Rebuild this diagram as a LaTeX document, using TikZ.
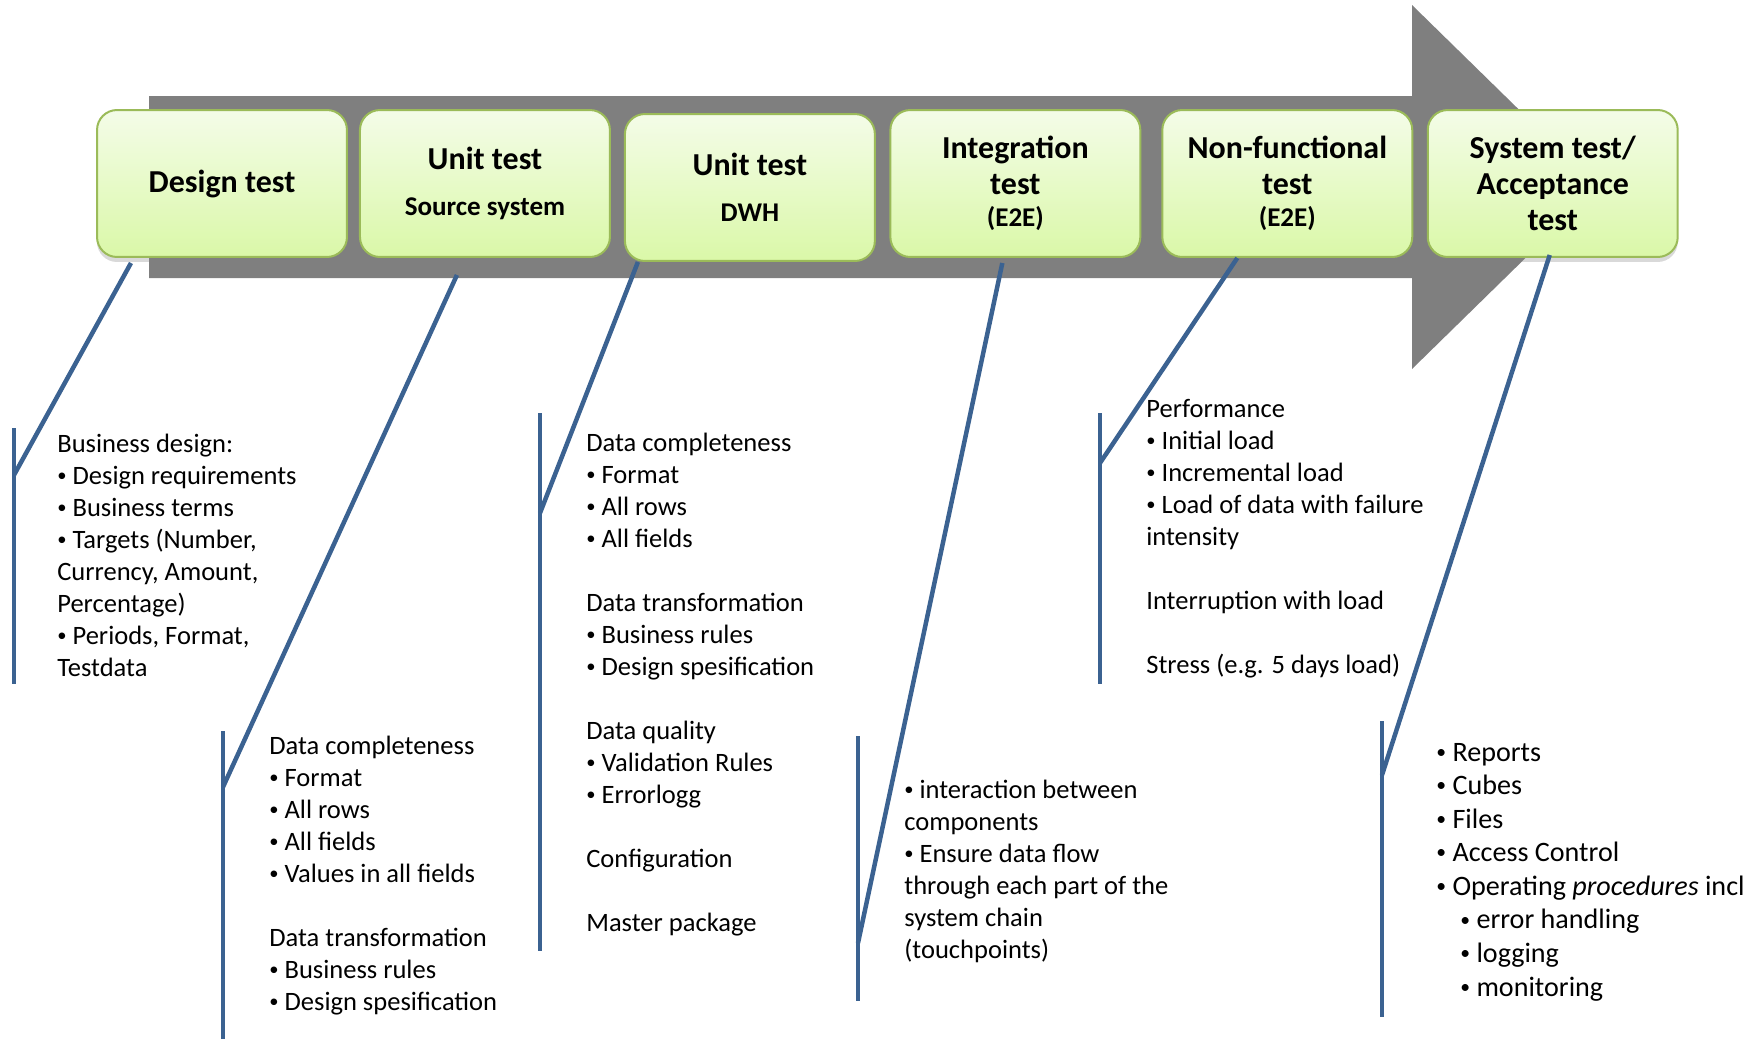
\documentclass[tikz,border=0pt]{standalone}
\usepackage{fontspec}
\setmainfont{Carlito}
\usepackage{xcolor}
\usepackage{tikz}
\usetikzlibrary{positioning, calc, shadows}

\definecolor{flowgray}{RGB}{127,127,127}
\definecolor{phaseedge}{RGB}{155,187,89}
\definecolor{phasetop}{RGB}{244,252,232}
\definecolor{phasebot}{RGB}{218,248,168}
\definecolor{legblue}{RGB}{59,98,145}

\newcommand{\phasefont}{\fontsize{18.2}{20.4}\selectfont\bfseries}
\newcommand{\phasesub}{\fontsize{15.4}{17}\selectfont\bfseries}
\newcommand{\listfont}{\fontsize{15.1}{18.2}\selectfont}
\newcommand{\listfontb}{\fontsize{16}{19.1}\selectfont}
\newcommand{\itm}{\raisebox{0.1em}{\scalebox{0.7}{\textbullet}}\ }

\begin{document}
\begin{tikzpicture}[x=0.02cm, y=-0.02cm, % one unit = one pixel of the original
		phase/.style={rectangle, draw=phaseedge, line width=0.04cm, rounded corners=0.4cm, top color=phasetop, bottom color=phasebot, drop shadow={shadow xshift=0pt, shadow yshift=-0.1cm, opacity=0.3}, minimum width=5cm, minimum height=2.94cm, align=center, font=\phasefont, inner sep=0pt},
		leg/.style={draw=legblue, line width=0.09cm},
		items/.style={anchor=base west, align=left, inner sep=0pt, font=\listfont} % anchored at the last line
		]
		\useasboundingbox (0,0) rectangle (1758,1039);
		
		% the big grey arrow behind the phases
		\fill[flowgray] (149,96) -- (1412,96) -- (1412,5) -- (1598,187) -- (1412,369) -- (1412,278) -- (149,278) -- cycle;
		
		% phases
		\node[phase] (design) at (222,183.5) {Design test};
		\node[phase, right=0.22cm of design] (srcunit) {Unit test\\[5.8pt]{\phasesub Source system}};
		\node[phase, right=0.26cm of srcunit, yshift=-0.08cm] (dwhunit) {Unit test\\[5.8pt]{\phasesub DWH}};
		\node[phase, right=0.27cm of dwhunit, yshift=0.08cm] (integ) {Integration\\test\\[-2pt]{\phasesub (E2E)}};
		\node[phase, right=0.4cm of integ] (nonfunc) {Non-functional\\test\\[-2pt]{\phasesub (E2E)}};
		\node[phase, right=0.27cm of nonfunc] (systest) {System test/\\Acceptance\\test};
		
		% Design test
		\coordinate (k1) at ($(design.south)+(-91,5)$);
		\coordinate (t1) at (14,428);
		\coordinate (j1) at (14,475);
		\coordinate (e1) at (14,684);
		\draw[leg] (t1) -- (e1);
		\draw[leg] (k1) -- (j1);
		\node[items] (designlist) at (57,676) {Business design:\\
			\itm Design requirements\\
			\itm Business terms\\
			\itm Targets (Number,\\
			Currency, Amount,\\
			Percentage)\\
			\itm Periods, Format,\\
			Testdata};
		
		% Unit test, source system
		\coordinate (k2) at ($(srcunit.south)+(-28,17)$);
		\coordinate (t2) at (223,731);
		\coordinate (j2) at (223,787);
		\coordinate (e2) at (223,1039);
		\draw[leg] (t2) -- (e2);
		\draw[leg] (k2) -- (j2);
		\node[items] (srclist) at (269,1010) {Data completeness\\
			\itm Format\\
			\itm All rows\\
			\itm All fields\\
			\itm Values in all fields\\[18.2pt]
			Data transformation\\
			\itm Business rules\\
			\itm Design spesification};
		
		% Unit test, DWH
		\coordinate (k3) at ($(dwhunit.south)+(-112,0)$);
		\coordinate (t3) at (540,413);
		\coordinate (j3) at (540,513);
		\coordinate (e3) at (540,951);
		\draw[leg] (t3) -- (e3);
		\draw[leg] (k3) -- (j3);
		\node[items] (dwhlist) at (586,931) {Data completeness\\
			\itm Format\\
			\itm All rows\\
			\itm All fields\\[18.2pt]
			Data transformation\\
			\itm Business rules\\
			\itm Design spesification\\[18.2pt]
			Data quality\\
			\itm Validation Rules\\
			\itm Errorlogg\\[18.2pt]
			Configuration\\[18.2pt]
			Master package};
		
		% Integration test
		\coordinate (k4) at ($(integ.south)+(-13,5)$);
		\coordinate (t4) at (858,736);
		\coordinate (j4) at (858,943);
		\coordinate (e4) at (858,1001);
		\draw[leg] (t4) -- (e4);
		\draw[leg] (k4) -- (j4);
		\node[items] (integlist) at (904,958) {\itm interaction between\\
			components\\
			\itm Ensure data flow\\
			through each part of the\\
			system chain\\
			(touchpoints)};
		
		% Non-functional test
		\coordinate (k5) at ($(nonfunc.south)+(-50,0)$);
		\coordinate (t5) at (1100,413);
		\coordinate (j5) at (1100,463);
		\coordinate (e5) at (1100,684);
		\draw[leg] (t5) -- (e5);
		\draw[leg] (k5) -- (j5);
		\node[items] (nonfunclist) at (1146,673) {Performance\\
			\itm Initial load\\
			\itm Incremental load\\
			\itm Load of data with failure\\
			intensity\\[18.2pt]
			Interruption with load\\[18.2pt]
			Stress (e.g. 5 days load)};
		
		% System test / Acceptance test
		\coordinate (k6) at ($(systest.south)+(-3,-3)$);
		\coordinate (t6) at (1382,721);
		\coordinate (j6) at (1382,775);
		\coordinate (e6) at (1382,1017);
		\draw[leg] (t6) -- (e6);
		\draw[leg] (k6) -- (j6);
		\node[items, font=\listfontb] (syslist) at (1436,996) {\itm Reports\\
			\itm Cubes\\
			\itm Files\\
			\itm Access Control\\
			\itm Operating \textit{procedures} incl\\
			\hspace*{0.48cm}\itm error handling\\
			\hspace*{0.48cm}\itm logging\\
			\hspace*{0.48cm}\itm monitoring};
		
	\end{tikzpicture}
\end{document}
